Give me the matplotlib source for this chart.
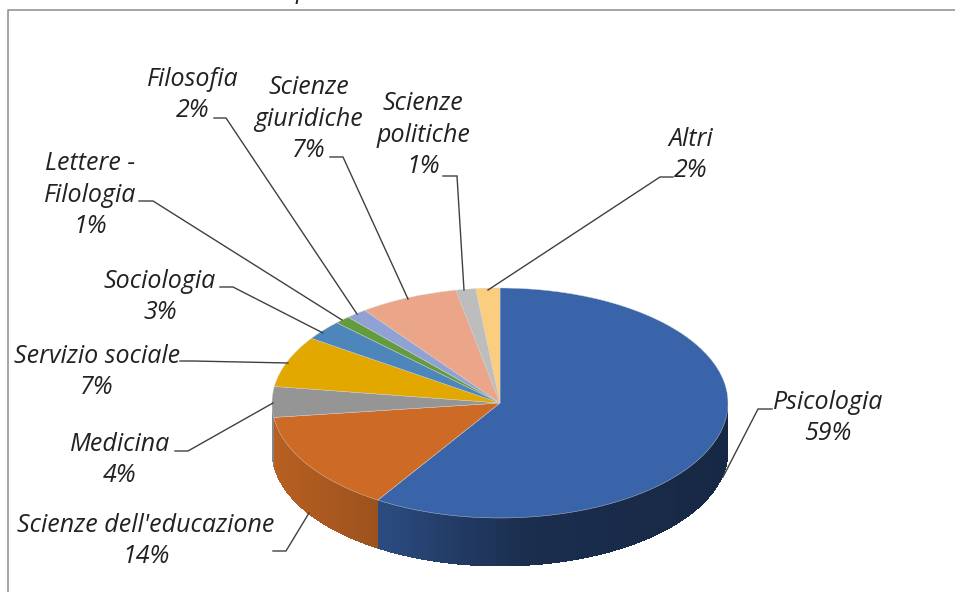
import numpy as np
import matplotlib
matplotlib.use("Agg")
import matplotlib.pyplot as plt
from matplotlib.collections import PolyCollection

categories = ["Psicologia", "Scienze dell'educazione", "Medicina", "Servizio sociale",
              "Sociologia", "Lettere -\nFilologia", "Filosofia", "Scienze\ngiuridiche",
              "Scienze\npolitiche", "Altri"]
values = [59.0, 14.0, 4.3, 7.2, 2.8, 1.1, 1.5, 7.0, 1.4, 1.7]
colors = ["#3A64AA", "#CD6B26", "#959595", "#E2A800", "#4D86BB",
          "#639B3F", "#8FA2D3", "#EBA68A", "#BDBDBD", "#FBCE7F"]

# layout in image pixels
W, H = 955, 592
CX, CY, RX, RY, DEPTH = 500, 403, 228, 115, 48
label_pos = [(828, 418), (146, 541), (120, 460), (97, 372), (160, 297),
             (90, 195), (193, 95), (309, 119), (423, 135), (691, 155)]
leaders = [[(772, 409), (758, 409), (723, 477)],
           [(273, 551), (286, 551), (309, 513)],
           [(175, 451), (188, 451), (273, 403)],
           [(180, 361), (193, 361), (288, 363)],
           [(220, 287), (233, 287), (323, 333)],
           [(139, 201), (153, 201), (342, 320)],
           [(214, 118), (226, 118), (357, 314)],
           [(330, 157), (343, 157), (408, 299)],
           [(443, 176), (457, 176), (464, 290)],
           [(673, 177), (660, 177), (488, 290)]]

fig = plt.figure(figsize=(W / 100, H / 100), dpi=100, facecolor="white")
ax = fig.add_axes([0, 0, 1, 1])
wedges, _ = ax.pie(values, colors=colors, startangle=90, counterclock=False,
                   radius=1, center=(0, 0), wedgeprops=dict(linewidth=0.3, edgecolor="#d0d0d0"))
ax.set_aspect("auto")
ax.set_xlim(-CX / RX, (W - CX) / RX)
ax.set_ylim(-(H - CY) / RY, CY / RY)
ax.axis("off")
for w in wedges:
    w.set_zorder(3)

# side wall: a solid backing per slice with thin strips shaded by horizontal position on top
depth = DEPTH / RY
shade = lambda c: np.interp(c, [-1, -0.53, 0.1, 1], [0.90, 0.76, 0.46, 0.40])
for w in wedges:
    a0, a1 = w.theta1 % 360, w.theta2 % 360
    if a1 <= a0:
        a1 += 360
    base = np.array(matplotlib.colors.to_rgb(w.get_facecolor()))
    ang = np.radians(np.arange(a0, a1 + 0.25, 0.25).clip(a0, a1))
    ang = ang[np.sin(ang) < 0.02]
    if len(ang) < 2:
        continue
    x, y = np.cos(ang), np.sin(ang)
    back = np.column_stack([np.r_[x, x[::-1]], np.r_[y, y[::-1] - depth]])
    ax.fill(back[:, 0], back[:, 1], color=base * shade(x.mean()), lw=0, zorder=1.5)
    polys = [[(x[i], y[i]), (x[i + 1], y[i + 1]), (x[i + 1], y[i + 1] - depth), (x[i], y[i] - depth)]
             for i in range(len(x) - 1)]
    cols = [base * shade((x[i] + x[i + 1]) / 2) for i in range(len(x) - 1)]
    ax.add_collection(PolyCollection(polys, facecolors=cols, edgecolors="none", linewidths=0,
                                     antialiased=False, zorder=2))

# overlay in image pixels for frame, leaders and labels
ov = fig.add_axes([0, 0, 1, 1], facecolor="none")
ov.set_xlim(0, W)
ov.set_ylim(H, 0)
ov.axis("off")
ov.plot([7.5, 7.5, W], [H, 9.5, 9.5], color="#8c8c8c", lw=1.1, clip_on=False)
for pts in leaders:
    xs, ys = zip(*pts)
    ov.plot(xs, ys, color="#404040", lw=1.0, zorder=4, solid_joinstyle="miter")
for cat, val, (x, y) in zip(categories, values, label_pos):
    ov.text(x, y, f"{cat}\n{val:.0f}%", ha="center", va="center", family="Open Sans",
            style="italic", fontsize=18, color="#222222", linespacing=1.34, zorder=5)
ov.text(303, -9, "p", ha="center", va="center", family="Open Sans", style="italic",
        fontsize=18, color="#222222", clip_on=False)
fig.savefig("out.png", dpi=100)
